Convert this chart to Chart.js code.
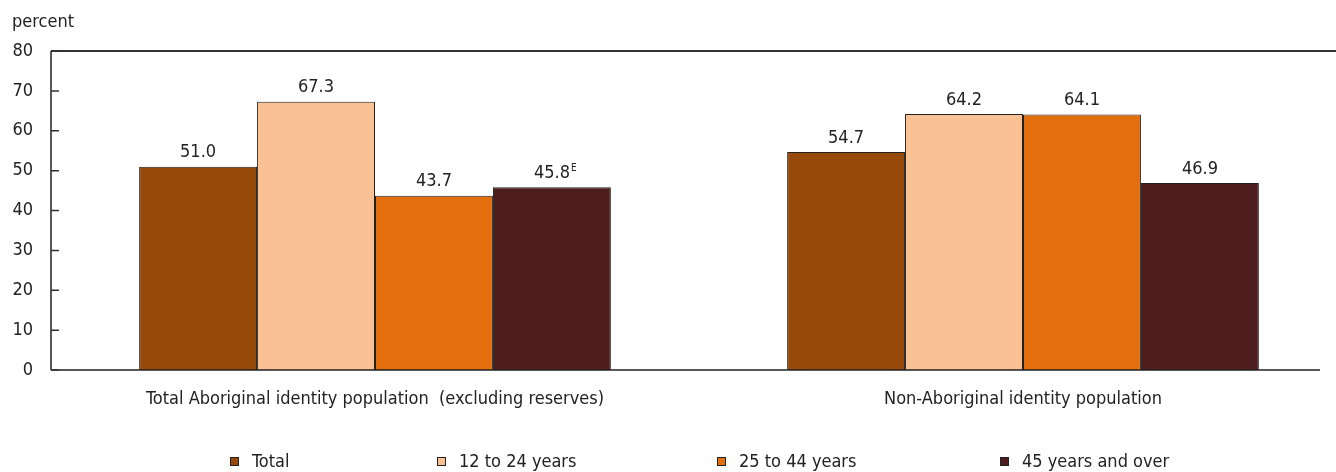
<!DOCTYPE html>
<html>
<head>
<meta charset="utf-8">
<script src="https://cdn.jsdelivr.net/npm/chart.js@4.4.1/dist/chart.umd.min.js"></script>
<style>
  html, body { margin: 0; padding: 0; background: #fff; overflow: hidden; }
  canvas { display: block; }
</style>
</head>
<body>
<canvas id="Chart" width="1347" height="472"></canvas>
<script>
  // categories + series
  var groups = ['Total Aboriginal identity population  (excluding reserves)', 'Non-Aboriginal identity population'];
  var seriesNames = ['Total', '12 to 24 years', '25 to 44 years', '45 years and over'];
  var totalVals = [51.0, 54.7];
  var youngVals = [67.3, 64.2];
  var midVals = [43.7, 64.1];
  var oldVals = [45.8, 46.9];
  var oldFlags = ['E', ''];   // E = use with caution
  var yTicks = [0, 10, 20, 30, 40, 50, 60, 70, 80];

  var colors = ['#964908', '#F9C194', '#E36E0E', '#4E1D1D'];
  var FONT = '"Liberation Sans Narrow", "DejaVu Sans Condensed", Arial, sans-serif';
  var TXT = '#222';

  const chart = document.getElementById('Chart').getContext('2d');

  // lines round the plot, inward tick marks, "percent" title
  const framePlugin = {
    id: 'frame',
    afterDraw(c) {
      const ctx = c.ctx, a = c.chartArea, y = c.scales.y;
      ctx.save();
      ctx.strokeStyle = '#222';
      ctx.lineWidth = 1.5;
      ctx.beginPath();
      ctx.moveTo(a.left, a.top); ctx.lineTo(a.left, a.bottom);
      ctx.moveTo(a.left, a.bottom); ctx.lineTo(1320, a.bottom);
      ctx.stroke();
      ctx.strokeStyle = '#333';
      ctx.lineWidth = 2;
      ctx.beginPath();
      ctx.moveTo(a.left, a.top); ctx.lineTo(c.width, a.top);
      ctx.stroke();
      ctx.lineWidth = 1.5;
      ctx.beginPath();
      yTicks.forEach(function (t) {
        const py = y.getPixelForValue(t);
        ctx.moveTo(a.left, py); ctx.lineTo(a.left + 8, py);
      });
      ctx.stroke();
      ctx.fillStyle = TXT;
      ctx.font = '18px ' + FONT;
      ctx.textAlign = 'left';
      ctx.textBaseline = 'middle';
      ctx.fillText('percent', 12, 22);
      ctx.restore();
    }
  };

  // value labels over the bars
  const valuePlugin = {
    id: 'values',
    afterDatasetsDraw(c) {
      const ctx = c.ctx;
      ctx.save();
      ctx.fillStyle = TXT;
      c.data.datasets.forEach(function (ds, di) {
        c.getDatasetMeta(di).data.forEach(function (bar, i) {
          const txt = ds.data[i].toFixed(1);
          ctx.font = '18px ' + FONT;
          ctx.textAlign = 'center';
          ctx.textBaseline = 'middle';
          ctx.fillText(txt, bar.x, bar.y - 14);
          const flag = ds.flags ? ds.flags[i] : '';
          if (flag) {
            const w = ctx.measureText(txt).width;
            ctx.font = '10px ' + FONT;
            ctx.textAlign = 'left';
            ctx.fillText(flag, bar.x + w / 2 + 1, bar.y - 19);
          }
        });
      });
      ctx.restore();
    }
  };

  // legend row under the axis
  var legendX = [230, 437, 717, 1000];
  const legendPlugin = {
    id: 'legendRow',
    afterDraw(c) {
      const ctx = c.ctx, ly = 462;
      ctx.save();
      c.data.datasets.forEach(function (ds, i) {
        const x = legendX[i];
        ctx.fillStyle = ds.backgroundColor;
        ctx.fillRect(x, ly - 5, 9, 9);
        ctx.strokeStyle = '#222';
        ctx.lineWidth = 1;
        ctx.strokeRect(x + 0.5, ly - 4.5, 8, 8);
        ctx.fillStyle = TXT;
        ctx.font = '18px ' + FONT;
        ctx.textAlign = 'left';
        ctx.textBaseline = 'middle';
        ctx.fillText(ds.label, x + 22, ly);
      });
      ctx.restore();
    }
  };

  function mkSet(i, vals) {
    return {
      label: seriesNames[i],
      data: vals,
      backgroundColor: colors[i],
      borderColor: '#222',
      borderWidth: 1,
      categoryPercentage: 0.728,
      barPercentage: 1.0
    };
  }

  var sets = [mkSet(0, totalVals), mkSet(1, youngVals), mkSet(2, midVals), mkSet(3, oldVals)];
  sets[3].flags = oldFlags;

  const barChart = new Chart(chart, {
    type: 'bar',
    data: { labels: groups, datasets: sets },
    options: {
      responsive: false,
      devicePixelRatio: 1,
      animation: false,
      layout: { padding: { top: 51, right: 0, bottom: 0, left: 0 } },
      plugins: {
        legend: { display: false },
        tooltip: { enabled: false }
      },
      scales: {
        x: {
          grid: { display: false, drawTicks: false },
          border: { display: false },
          ticks: { color: TXT, font: { family: FONT, size: 18 }, padding: 19, maxRotation: 0 },
          afterFit: function (s) { s.height = 102; }
        },
        y: {
          min: 0,
          max: 80,
          afterBuildTicks: function (s) { s.ticks = yTicks.map(function (v) { return { value: v }; }); },
          grid: { display: false, drawTicks: false },
          border: { display: false },
          ticks: { color: TXT, font: { family: FONT, size: 18 }, padding: 18 },
          afterFit: function (s) { s.width = 51; }
        }
      }
    },
    plugins: [framePlugin, valuePlugin, legendPlugin]
  });
</script>
</body>
</html>
